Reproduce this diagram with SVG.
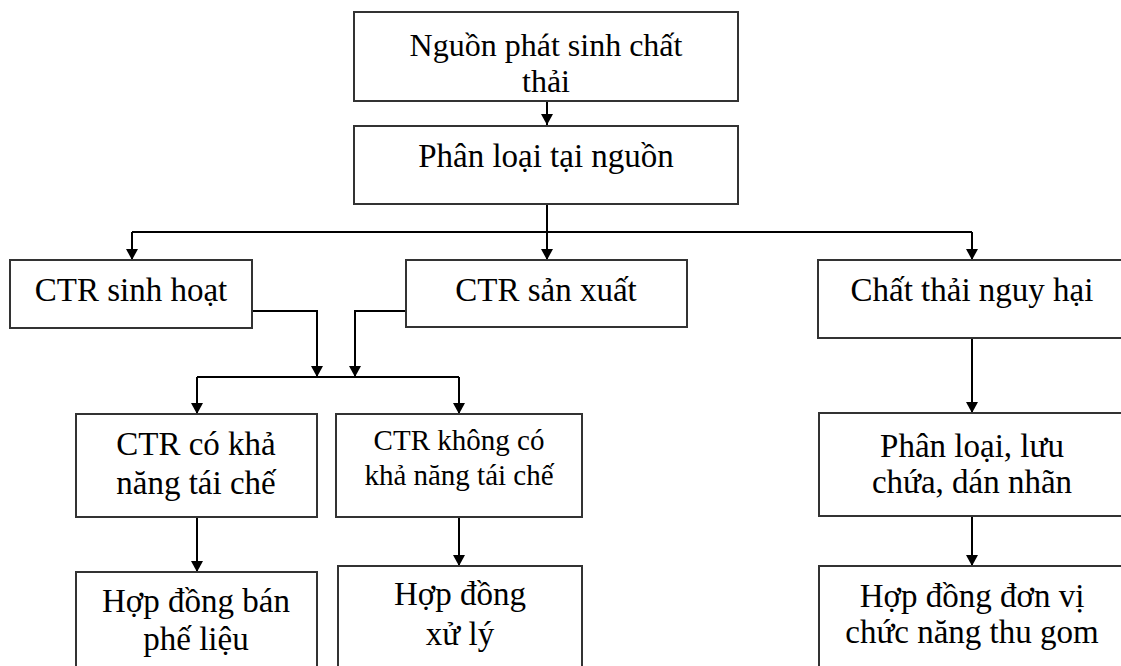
<svg xmlns="http://www.w3.org/2000/svg" width="1121" height="666" viewBox="0 0 1121 666">
<style>
.box{fill:#fff;stroke:#333;stroke-width:2}
.t{font-family:"Liberation Serif","Times New Roman",serif;font-size:33px;fill:#000;text-anchor:middle}
.ts{font-size:29px}
.c{fill:none;stroke:#000;stroke-width:2}
.a{marker-end:url(#ah)}
</style>
<defs>
<marker id="ah" viewBox="0 0 12 13" refX="12" refY="6.5" markerWidth="13" markerHeight="12" markerUnits="userSpaceOnUse" orient="auto">
<path d="M0,0 L12,6.5 L0,13 z" fill="#000"/>
</marker>
</defs>
<rect width="1121" height="666" fill="#fff"/>
<g id="connectors">
<line class="c a" x1="547" y1="101" x2="547" y2="125"/>
<line class="c" x1="547" y1="204" x2="547" y2="232"/>
<line class="c" x1="132" y1="232" x2="972" y2="232"/>
<line class="c a" x1="132" y1="232" x2="132" y2="260"/>
<line class="c a" x1="547" y1="232" x2="547" y2="260"/>
<line class="c a" x1="972" y1="232" x2="972" y2="260"/>
<polyline class="c a" points="253,311 317,311 317,377"/>
<polyline class="c a" points="406,311 355,311 355,377"/>
<line class="c" x1="197" y1="377" x2="459" y2="377"/>
<line class="c a" x1="197" y1="377" x2="197" y2="414"/>
<line class="c a" x1="459" y1="377" x2="459" y2="414"/>
<line class="c a" x1="197" y1="517" x2="197" y2="572"/>
<line class="c a" x1="459" y1="517" x2="459" y2="566"/>
<line class="c a" x1="972" y1="338" x2="972" y2="413"/>
<line class="c a" x1="972" y1="516" x2="972" y2="566"/>
</g>
<g id="n1">
<rect class="box" x="354" y="12" width="384" height="89"/>
<text class="t" x="546" y="56" style="font-size:32px">Nguồn phát sinh chất</text>
<text class="t" x="546" y="92" style="font-size:32px">thải</text>
</g>
<g id="n2">
<rect class="box" x="354" y="126" width="384" height="78"/>
<text class="t" x="546" y="167">Phân loại tại nguồn</text>
</g>
<g id="n3">
<rect class="box" x="10" y="260" width="242" height="68"/>
<text class="t" x="131" y="301">CTR sinh hoạt</text>
</g>
<g id="n4">
<rect class="box" x="406" y="260" width="281" height="67"/>
<text class="t" x="546" y="301">CTR sản xuất</text>
</g>
<g id="n5">
<rect class="box" x="818" y="260" width="310" height="78"/>
<text class="t" x="972" y="301">Chất thải nguy hại</text>
</g>
<g id="n6">
<rect class="box" x="76" y="414" width="241" height="103"/>
<text class="t" x="196" y="455">CTR có khả</text>
<text class="t" x="196" y="494">năng tái chế</text>
</g>
<g id="n7">
<rect class="box" x="336" y="414" width="246" height="103"/>
<text class="t ts" x="459" y="450">CTR không có</text>
<text class="t ts" x="459" y="485">khả năng tái chế</text>
</g>
<g id="n8">
<rect class="box" x="76" y="572" width="241" height="100"/>
<text class="t" x="196" y="612">Hợp đồng bán</text>
<text class="t" x="196" y="650">phế liệu</text>
</g>
<g id="n9">
<rect class="box" x="338" y="566" width="244" height="106"/>
<text class="t" x="460" y="605">Hợp đồng</text>
<text class="t" x="460" y="645">xử lý</text>
</g>
<g id="n10">
<rect class="box" x="819" y="413" width="310" height="103"/>
<text class="t" x="972" y="457">Phân loại, lưu</text>
<text class="t" x="972" y="493">chứa, dán nhãn</text>
</g>
<g id="n11">
<rect class="box" x="819" y="566" width="310" height="106"/>
<text class="t" x="972" y="607">Hợp đồng đơn vị</text>
<text class="t" x="972" y="643">chức năng thu gom</text>
</g>
</svg>
